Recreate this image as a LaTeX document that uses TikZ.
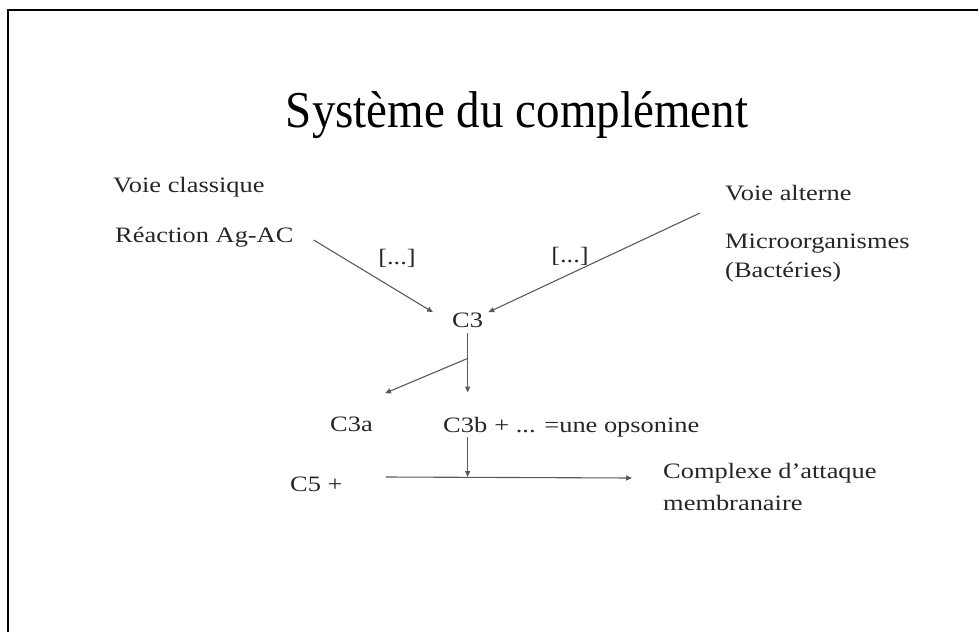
\documentclass[tikz,border=0pt]{standalone}
\usepackage{fontspec}
\setmainfont{Liberation Serif}
\usetikzlibrary{arrows.meta,calc}
\usepackage[dvipsnames]{xcolor}
\definecolor{encre}{HTML}{262626}
\definecolor{trait}{HTML}{5A5A5A}

\begin{document}
\begin{tikzpicture}[x=1pt,y=-1pt,
            petit/.style = {font=\fontsize{22}{26}\selectfont, xscale=1.2, inner sep=0pt, anchor=base west, text=encre},
            crochet/.style = {petit, anchor=base},
            fleche/.style = {draw=trait, line width=1.1pt, -{Triangle[length=6pt,width=5pt]}},
            titre/.style = {font=\fontsize{47}{50}\selectfont, yscale=1.1, inner sep=0pt, anchor=base, text=black}
            ]
            \useasboundingbox (0,0) rectangle (978,632);
            \draw[line width=2.5pt] (7.8,632) -- (7.8,10) -- (978,10);

            \node[titre] (titre) at (517,127) {Système du complément};

            \node[petit] (classique) at (113,192) {Voie classique};
            \node[petit] (reac) at (115,242) {Réaction Ag-AC};
            \node[petit] (alt) at (725,200) {Voie alterne};
            \node[petit] (micro) at (725,248) {Microorganismes};
            \node[petit] (bact) at (725,277) {(Bactéries)};
            \node[crochet] (crochetG) at (397,264) {[...]};
            \node[crochet] (crochetD) at (570,262) {[...]};

            \node[petit] (c3) at (452,327) {C3};
            \node[petit] (c3a) at (330,431) {C3a};
            \node[petit] (c3b) at (443,432) {C3b};
            \node[petit, anchor=base west] (opso) at (c3b.base east) {\ + ... =une opsonine};
            \node[petit] (c5) at (290,491) {C5 +};
            \node[petit] (cplx) at (663,478) {Complexe d'attaque};
            \node[petit] (membr) at (663,510) {membranaire};

            \draw[fleche] ([xshift=20pt,yshift=2pt]reac.base east) -- ([xshift=-19pt]c3.north west);
            \draw[fleche] ([xshift=-25pt,yshift=-13pt]alt.base west) -- ([xshift=5pt]c3.north east);
            \draw[fleche] ([yshift=-6pt]c3.south) -- ([yshift=24pt]c3.south |- c3b.north);
            \draw[fleche] ([yshift=-31pt]c3.south) -- ([xshift=12pt,yshift=23pt]c3a.north east);

            \coordinate (debut) at ([xshift=43pt,yshift=14pt]c5.base east);
            \coordinate (fin) at ([xshift=-31pt]cplx.base west);
            \draw[fleche] (debut) -- (fin);
            \draw[fleche] ([yshift=-5pt]c3.south |- c3b.south) -- (c3.south |- debut);
        \end{tikzpicture}
\end{document}
